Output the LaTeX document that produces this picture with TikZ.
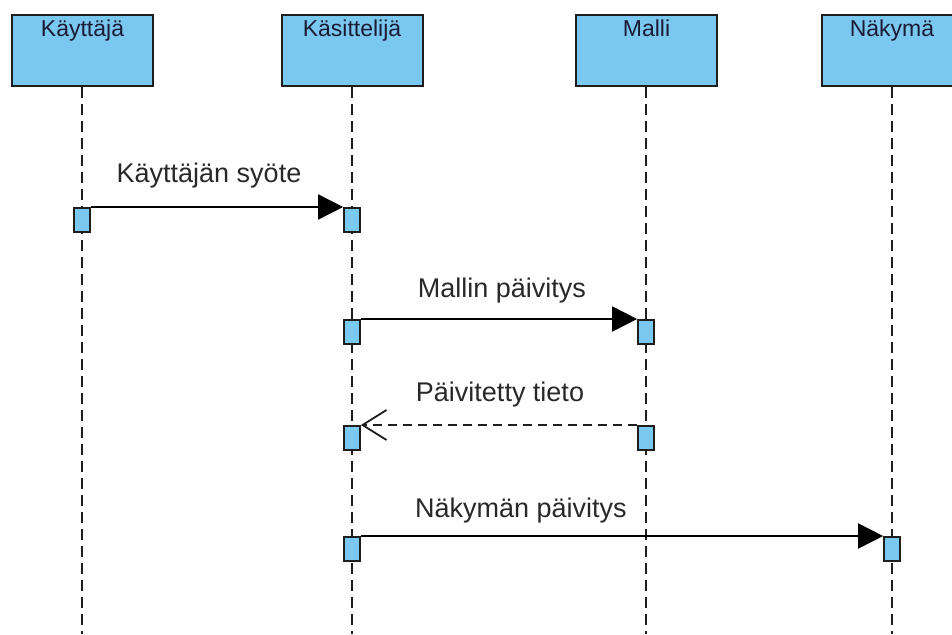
\documentclass[tikz,border=0pt]{standalone}
\usepackage{fontspec}
\setmainfont{Liberation Sans}
\usetikzlibrary{arrows.meta}
\definecolor{boxblue}{RGB}{122,200,240}
\definecolor{ink}{RGB}{30,30,30}
\definecolor{labelink}{RGB}{40,40,40}

\begin{document}
\begin{tikzpicture}[x=1pt,y=-1pt,
  actor/.style={draw=ink, line width=2pt, fill=boxblue, minimum width=141pt,
    minimum height=71pt, inner sep=0pt, anchor=north},
  actlabel/.style={font=\fontsize{23}{24}\selectfont, text=ink!90!blue, anchor=base},
  lifeline/.style={draw=ink, line width=2pt, dash pattern=on 11pt off 6pt},
  act/.style={draw=ink, line width=1.7pt, fill=boxblue, minimum width=16pt,
    minimum height=24pt, inner sep=0pt, anchor=north},
  msg/.style={draw=black, line width=1.8pt, -{Triangle[length=25pt,width=25pt]}},
  reply/.style={draw=ink, line width=1.8pt, dash pattern=on 9pt off 6pt,
    -{Straight Barb[length=24pt,width=30pt,line width=1.8pt]}},
  msglabel/.style={font=\fontsize{27}{29}\selectfont, text=labelink, anchor=base}
]
\useasboundingbox (0,0) rectangle (952,634);

% participants
\node[actor] (user) at (82.5,14) {};
\node[actor] (ctrl) at (352,14) {};
\node[actor] (model) at (646.5,14) {};
\node[actor] (view) at (892,14) {};
\node[actlabel] (userT) at (82.5,37) {Käyttäjä};
\node[actlabel] (ctrlT) at (352,37) {Käsittelijä};
\node[actlabel] (modelT) at (646.5,37) {Malli};
\node[actlabel] (viewT) at (892,37) {Näkymä};

% lifeline ends
\coordinate (userE) at (82,634);
\coordinate (ctrlE) at (352,634);
\coordinate (modelE) at (646,634);
\coordinate (viewE) at (892,634);

\draw[lifeline] (user.south -| userE) -- (userE);
\draw[lifeline] (ctrl.south -| ctrlE) -- (ctrlE);
\draw[lifeline] (model.south -| modelE) -- (modelE);
\draw[lifeline] (view.south -| viewE) -- (viewE);

% activations
\node[act] (a1) at (82,207) {};
\node[act] (c1) at (352,207) {};
\node[act] (c2) at (352,319) {};
\node[act] (m2) at (646,319) {};
\node[act] (c3) at (352,425) {};
\node[act] (m3) at (646,425) {};
\node[act] (c4) at (352,536) {};
\node[act] (v4) at (892,536) {};

% messages
\draw[msg] (a1.north east) -- (c1.north west);
\draw[msg] (c2.north east) -- (m2.north west);
\draw[reply] (m3.north west) -- (c3.north east);
\draw[msg] (c4.north east) -- (v4.north west);

% message labels
\node[msglabel] (l1) at (209,182) {Käyttäjän syöte};
\node[msglabel] (l2) at (502,297) {Mallin päivitys};
\node[msglabel] (l3) at (500,401) {Päivitetty tieto};
\node[msglabel] (l4) at (521,517) {Näkymän päivitys};
\end{tikzpicture}
\end{document}
